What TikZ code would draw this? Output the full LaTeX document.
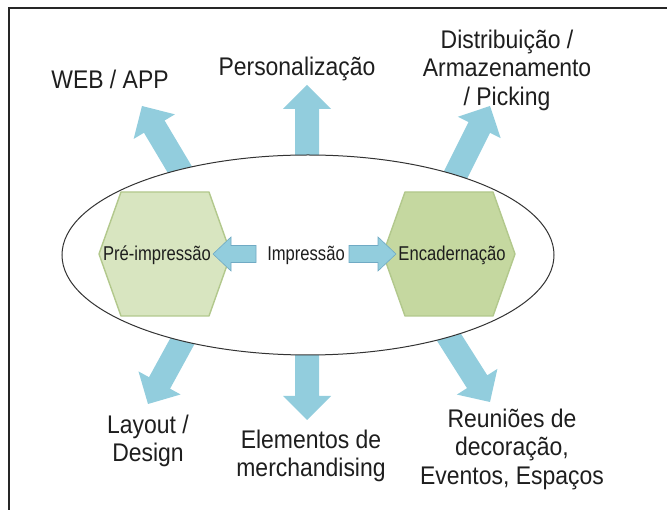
\documentclass[tikz,border=0pt]{standalone}
\usepackage{fontspec}
\setmainfont{Liberation Sans}
\newfontfamily\outerf[FakeStretch=0.9]{Liberation Sans}
\newfontfamily\innerf[FakeStretch=0.83]{Liberation Sans}
\usetikzlibrary{calc}
\definecolor{arrowblue}{RGB}{146,205,221}
\definecolor{arrowedge}{RGB}{112,170,196}
\definecolor{hexA}{RGB}{216,229,192}
\definecolor{hexB}{RGB}{197,216,160}
\definecolor{hexedge}{RGB}{178,200,140}
\definecolor{txt}{RGB}{30,30,30}
\newcommand\blockarrow[6]{%
  \path[#6] let \p1=(#1), \p2=(#2), \n1={atan2(\y2-\y1,\x2-\x1)}, \n2={veclen(\x2-\x1,\y2-\y1)} in
    ($(\p1)+(\n1+90:#3)$) -- ($(\p1)+(\n1:{\n2-#5})+(\n1+90:#3)$) -- ($(\p1)+(\n1:{\n2-#5})+(\n1+90:#4)$) -- (\p2)
    -- ($(\p1)+(\n1:{\n2-#5})+(\n1-90:#4)$) -- ($(\p1)+(\n1:{\n2-#5})+(\n1-90:#3)$) -- ($(\p1)+(\n1-90:#3)$) -- cycle;}
\tikzset{
  outerlabel/.style={font=\outerf\fontsize{25.5}{28.5}\selectfont, text=txt, align=center, inner sep=0pt},
  innerlabel/.style={font=\innerf\fontsize{20}{22}\selectfont, text=txt, inner sep=0pt, anchor=base},
  bigarrow/.style={fill=arrowblue},
  smallarrow/.style={fill=arrowblue, draw=arrowedge, line width=0.6pt},
  hexshape/.style={draw=hexedge, line width=1.4pt, line join=round}
}
\begin{document}
\begin{tikzpicture}[x=1pt,y=-1pt]
\useasboundingbox (0,0) rectangle (667,510);
% frame
\draw[line width=1.3pt, black!85] (9,510) -- (9,8) -- (667,8);
% coordinates
\coordinate (c) at (308,255);
\coordinate (hl) at (165,254);
\coordinate (hr) at (449,254);
\coordinate (tWeb) at (192,190);   \coordinate (pWeb) at (142,106);
\coordinate (tPer) at (307,180);   \coordinate (pPer) at (307,85);
\coordinate (tDis) at (448,190);   \coordinate (pDis) at (490,106);
\coordinate (tLay) at (194,320);   \coordinate (pLay) at (148,404);
\coordinate (tEle) at (307,330);   \coordinate (pEle) at (307,420);
\coordinate (tReu) at (438,320);   \coordinate (pReu) at (490,402);
% outer arrows
\blockarrow{tWeb}{pWeb}{12pt}{24pt}{24pt}{bigarrow}
\blockarrow{tPer}{pPer}{12pt}{24pt}{24pt}{bigarrow}
\blockarrow{tDis}{pDis}{12pt}{24pt}{24pt}{bigarrow}
\blockarrow{tLay}{pLay}{12pt}{24pt}{24pt}{bigarrow}
\blockarrow{tEle}{pEle}{12pt}{24pt}{24pt}{bigarrow}
\blockarrow{tReu}{pReu}{12pt}{24pt}{24pt}{bigarrow}
% ellipse
\draw[fill=white, draw=black!80, line width=1pt] (c) ellipse [x radius=246, y radius=100];
% hexagons
\path[hexshape, fill=hexA] (hl) ++(-66,0) -- ++(22,-62) -- ++(88,0) -- ++(22,62) -- ++(-22,62) -- ++(-88,0) -- cycle;
\path[hexshape, fill=hexB] (hr) ++(-66,0) -- ++(22,-62) -- ++(88,0) -- ++(22,62) -- ++(-22,62) -- ++(-88,0) -- cycle;
% inner arrows
\coordinate (tL) at (256,254); \coordinate (pL) at (213,254);
\coordinate (tR) at (349,254); \coordinate (pR) at (396,254);
\blockarrow{tL}{pL}{8.5pt}{17pt}{18pt}{smallarrow}
\blockarrow{tR}{pR}{8.5pt}{17pt}{18pt}{smallarrow}
% inner labels
\node[innerlabel] (pre) at (157,261) {Pré-impressão};
\node[innerlabel] (imp) at (306,261) {Impressão};
\node[innerlabel] (enc) at (452,261) {Encadernação};
% outer labels
\node[outerlabel] (web) at (110,79) {WEB / APP};
\node[outerlabel] (per) at (297,69) {Personalização};
\node[outerlabel] (dis) at (507,70) {Distribuição /\\Armazenamento\\/ Picking};
\node[outerlabel] (lay) at (148,441) {Layout /\\Design};
\node[outerlabel] (ele) at (311,456) {Elementos de\\merchandising};
\node[outerlabel] (reu) at (512,449) {Reuniões de\\decoração,\\Eventos, Espaços};
\end{tikzpicture}
\end{document}
